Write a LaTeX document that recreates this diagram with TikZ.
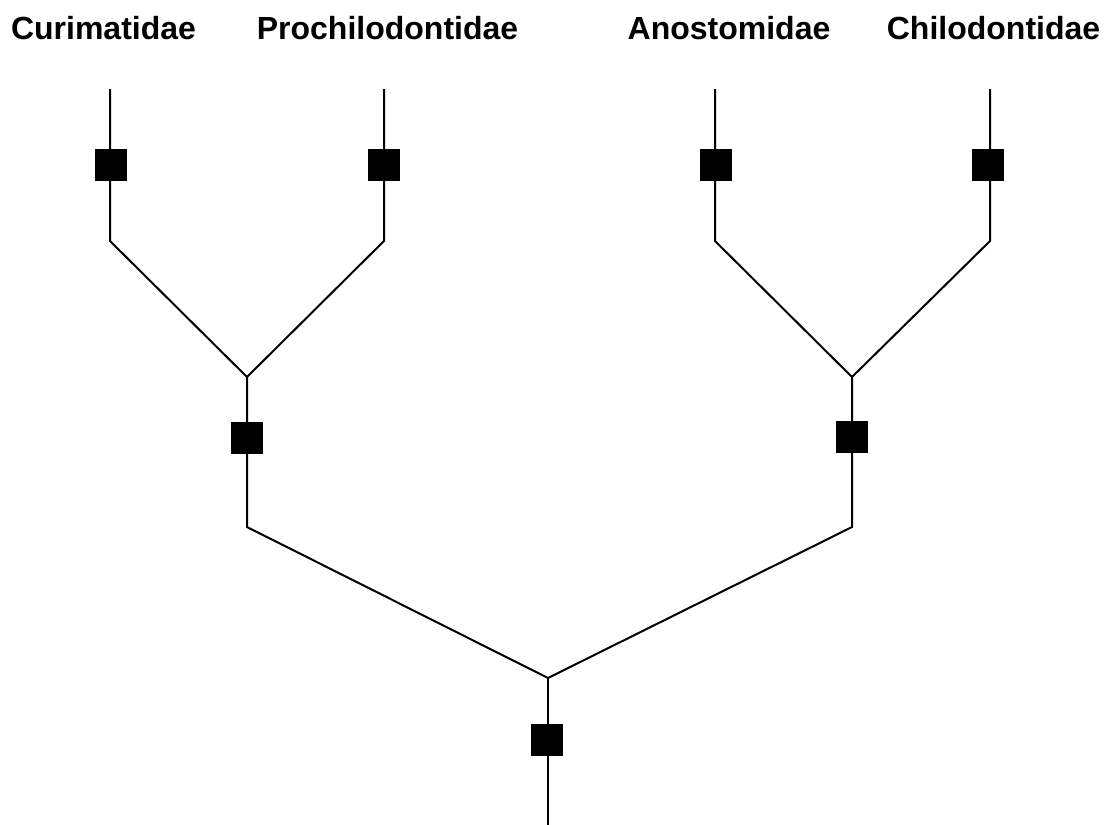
\documentclass[tikz,border=0pt]{standalone}
\usepackage{fontspec}
\setmainfont{Liberation Sans}
\begin{document}
\begin{tikzpicture}[x=1pt,y=-1pt,
  branch/.style={draw=black,line width=2pt,line cap=butt,line join=miter},
  apomorphy/.style={fill=black,draw=none,minimum width=32pt,minimum height=32pt,inner sep=0pt},
  taxon/.style={anchor=base,inner sep=0pt,font=\bfseries\fontsize{32}{38}\selectfont}]
\useasboundingbox (0,0) rectangle (1104,825);

% taxon names
\node[taxon] (tCur) at (103.5,39) {Curimatidae};
\node[taxon] (tPro) at (387.5,39) {Prochilodontidae};
\node[taxon] (tAno) at (729,39) {Anostomidae};
\node[taxon] (tChi) at (993.5,39) {Chilodontidae};

% terminal branches: tip, bend
\coordinate (cTip) at (110,89);  \coordinate (cBend) at (110,241);
\coordinate (pTip) at (384,89);  \coordinate (pBend) at (384,241);
\coordinate (aTip) at (715,89);  \coordinate (aBend) at (715,241);
\coordinate (hTip) at (990,89);  \coordinate (hBend) at (990,241);

% internal nodes
\coordinate (left)  at (247,377);  \coordinate (leftBend)  at (247,527);
\coordinate (right) at (852,377);  \coordinate (rightBend) at (852,527);
\coordinate (root)  at (548,678);  \coordinate (base)      at (548,825);

% branches
\draw[branch] (cTip) -- (cBend) -- (left);
\draw[branch] (pTip) -- (pBend) -- (left);
\draw[branch] (aTip) -- (aBend) -- (right);
\draw[branch] (hTip) -- (hBend) -- (right);
\draw[branch] (left) -- (leftBend) -- (root);
\draw[branch] (right) -- (rightBend) -- (root);
\draw[branch] (root) -- (base);

% character state changes
\node[apomorphy] (sCur) at (111,165) {};
\node[apomorphy] (sPro) at (384,165) {};
\node[apomorphy] (sAno) at (715.5,165) {};
\node[apomorphy] (sChi) at (988,165) {};
\node[apomorphy] (sLeft) at (247,438) {};
\node[apomorphy] (sRight) at (852,437) {};
\node[apomorphy] (sRoot) at (547,740) {};
\end{tikzpicture}
\end{document}
